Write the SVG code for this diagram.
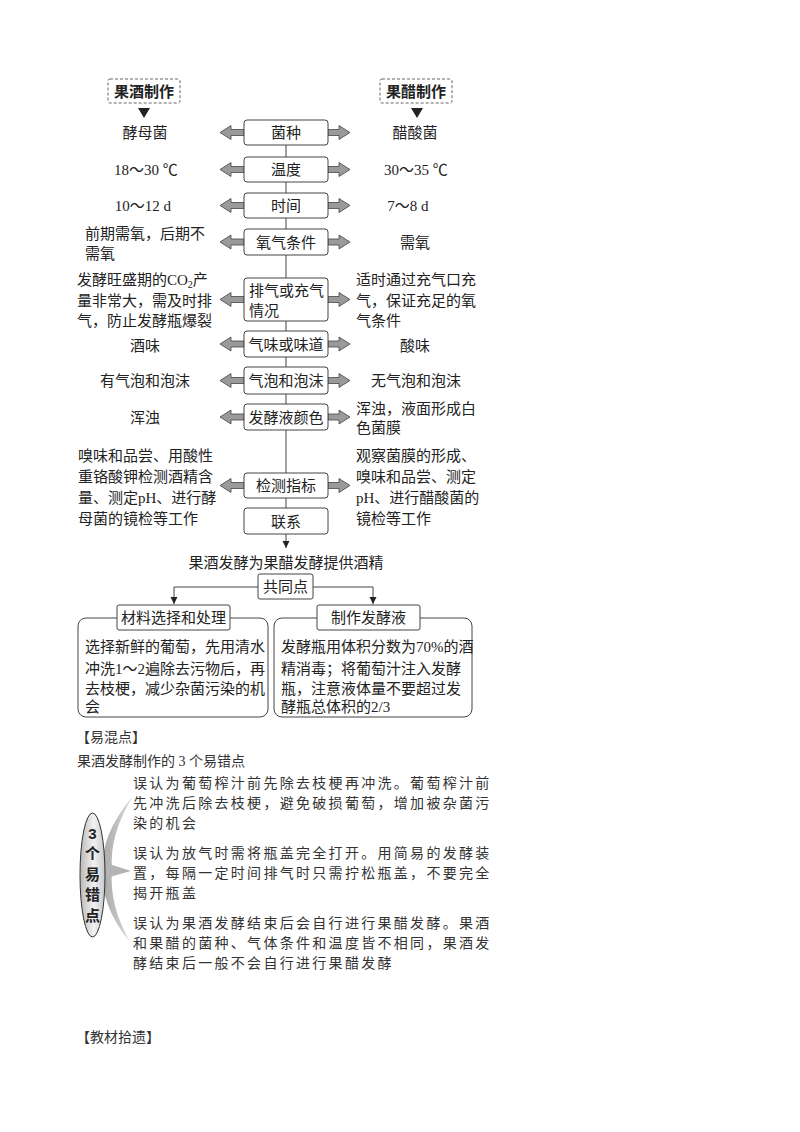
<svg xmlns="http://www.w3.org/2000/svg" width="800" height="1132" viewBox="0 0 800 1132">
<style>
.t{font-family:"Liberation Serif","Noto Sans CJK SC",serif;font-size:15px;fill:#222}
.s{font-family:"Liberation Serif","Noto Sans CJK SC",serif;font-size:14px;fill:#333;letter-spacing:2.3px}
.h{font-family:"Liberation Serif","Noto Sans CJK SC",serif;font-size:14px;fill:#333}
.c{text-anchor:middle}
.b{font-family:"Liberation Sans","Noto Sans CJK SC",sans-serif;font-weight:bold;font-size:15px;fill:#222}
.box{fill:#fff;stroke:#444;stroke-width:1}
.dash{fill:#fff;stroke:#666;stroke-width:1;stroke-dasharray:3 2}
.arr{fill:#9a9a9a;stroke:#444;stroke-width:0.8}
.ln{stroke:#444;stroke-width:1;fill:none}
</style>
<defs>
<path id="la" d="M0,-3 L-13,-3 L-13,-7 L-24,0 L-13,7 L-13,3 L0,3 Z"/>
<path id="ra" d="M0,-3 L11,-3 L11,-7 L22,0 L11,7 L11,3 L0,3 Z"/>
<marker id="tri" markerWidth="8" markerHeight="8" refX="7" refY="4" orient="auto" markerUnits="userSpaceOnUse">
<path d="M0,0.5 L7,4 L0,7.5 Z" fill="#222"/>
</marker>
<linearGradient id="og" x1="0" y1="0" x2="1" y2="0">
<stop offset="0" stop-color="#b8b8b8"/>
<stop offset="0.55" stop-color="#f2f2f2"/>
<stop offset="1" stop-color="#c8c8c8"/>
</linearGradient>
<linearGradient id="cg" x1="0" y1="0" x2="1" y2="0">
<stop offset="0" stop-color="#a8a8a8"/>
<stop offset="1" stop-color="#dcdcdc"/>
</linearGradient>
</defs>

<g id="connectors">
<line class="ln" x1="286" y1="145" x2="286" y2="508"/>
<line class="ln" x1="286" y1="534" x2="286" y2="548" marker-end="url(#tri)"/>
<polyline class="ln" points="258,587 174,587 174,604" marker-end="url(#tri)"/>
<polyline class="ln" points="313,587 373,587 373,604" marker-end="url(#tri)"/>
<path d="M138,108 L150,108 L144,118 Z" fill="#222"/>
<path d="M411,108 L423,108 L417,118 Z" fill="#222"/>
<g class="arr">
<use href="#la" x="244" y="132.5"/><use href="#ra" x="328" y="132.5"/>
<use href="#la" x="244" y="169.5"/><use href="#ra" x="328" y="169.5"/>
<use href="#la" x="244" y="205.5"/><use href="#ra" x="328" y="205.5"/>
<use href="#la" x="244" y="242"/><use href="#ra" x="328" y="242"/>
<use href="#la" x="244" y="299.5"/><use href="#ra" x="328" y="299.5"/>
<use href="#la" x="244" y="344"/><use href="#ra" x="328" y="344"/>
<use href="#la" x="244" y="380.5"/><use href="#ra" x="328" y="380.5"/>
<use href="#la" x="244" y="417"/><use href="#ra" x="328" y="417"/>
<use href="#la" x="244" y="485.5"/><use href="#ra" x="328" y="485.5"/>
</g>
</g>

<g id="head-wine">
<rect class="dash" x="108" y="79" width="72" height="24" rx="2"/>
<text class="b c" x="144" y="96.5">果酒制作</text>
</g>
<g id="head-vinegar">
<rect class="dash" x="380" y="79" width="72" height="24" rx="2"/>
<text class="b c" x="416" y="96.5">果醋制作</text>
</g>

<g id="n-strain"><rect class="box" x="244" y="120" width="84" height="25" rx="3"/><text class="t c" x="286" y="138">菌种</text></g>
<g id="n-temp"><rect class="box" x="244" y="157" width="84" height="25" rx="3"/><text class="t c" x="286" y="175">温度</text></g>
<g id="n-time"><rect class="box" x="244" y="193" width="84" height="25" rx="3"/><text class="t c" x="286" y="211">时间</text></g>
<g id="n-oxy"><rect class="box" x="244" y="229" width="84" height="26" rx="3"/><text class="t c" x="286" y="247.5">氧气条件</text></g>
<g id="n-gas"><rect class="box" x="244" y="278" width="84" height="43" rx="3"/><text class="t" x="249" y="295.5">排气或充气</text><text class="t" x="249" y="315.5">情况</text></g>
<g id="n-smell"><rect class="box" x="244" y="331" width="84" height="26" rx="3"/><text class="t c" x="286" y="349.5">气味或味道</text></g>
<g id="n-bubble"><rect class="box" x="244" y="367" width="84" height="27" rx="3"/><text class="t c" x="286" y="386">气泡和泡沫</text></g>
<g id="n-color"><rect class="box" x="244" y="404" width="84" height="26" rx="3"/><text class="t c" x="286" y="422.5">发酵液颜色</text></g>
<g id="n-detect"><rect class="box" x="244" y="473" width="84" height="25" rx="3"/><text class="t c" x="286" y="491">检测指标</text></g>
<g id="n-link"><rect class="box" x="244" y="508" width="84" height="26" rx="3"/><text class="t c" x="286" y="526.5">联系</text></g>

<g id="left-col">
<text class="t c" x="145" y="138">酵母菌</text>
<text class="t c" x="146" y="175">18～30 ℃</text>
<text class="t c" x="143" y="211">10～12 d</text>
<text class="t" x="85" y="238.5">前期需氧，后期不</text>
<text class="t" x="85" y="258.5">需氧</text>
<text class="t" x="77" y="284.5">发酵旺盛期的CO<tspan font-size="10" dy="3">2</tspan><tspan dy="-3">产</tspan></text>
<text class="t" x="77" y="305.5">量非常大，需及时排</text>
<text class="t" x="77" y="325.5">气，防止发酵瓶爆裂</text>
<text class="t c" x="145" y="350.5">酒味</text>
<text class="t c" x="145" y="386">有气泡和泡沫</text>
<text class="t c" x="145" y="422.5">浑浊</text>
<text class="t" x="78" y="460.5">嗅味和品尝、用酸性</text>
<text class="t" x="78" y="481.5">重铬酸钾检测酒精含</text>
<text class="t" x="78" y="502.5">量、测定pH、进行酵</text>
<text class="t" x="78" y="523.5">母菌的镜检等工作</text>
</g>

<g id="right-col">
<text class="t c" x="415" y="138">醋酸菌</text>
<text class="t c" x="416" y="175">30～35 ℃</text>
<text class="t c" x="408" y="211">7～8 d</text>
<text class="t c" x="415" y="247.5">需氧</text>
<text class="t" x="356" y="284.5">适时通过充气口充</text>
<text class="t" x="356" y="305.5">气，保证充足的氧</text>
<text class="t" x="356" y="325.5">气条件</text>
<text class="t c" x="415" y="350.5">酸味</text>
<text class="t c" x="416" y="386">无气泡和泡沫</text>
<text class="t" x="356" y="413.5">浑浊，液面形成白</text>
<text class="t" x="356" y="433">色菌膜</text>
<text class="t" x="356" y="460.5">观察菌膜的形成、</text>
<text class="t" x="356" y="481.5">嗅味和品尝、测定</text>
<text class="t" x="356" y="502.5">pH、进行醋酸菌的</text>
<text class="t" x="356" y="523.5">镜检等工作</text>
</g>

<g id="n-provide"><text class="t c" x="286" y="567.5">果酒发酵为果醋发酵提供酒精</text></g>
<g id="n-common"><rect class="box" x="258" y="574" width="55" height="25" rx="2"/><text class="t c" x="285.5" y="591.5">共同点</text></g>

<g id="n-material">
<rect class="box" x="78" y="618" width="190" height="99" rx="8"/>
<rect class="box" x="117" y="605" width="113" height="25" rx="2"/>
<text class="t c" x="173.5" y="623">材料选择和处理</text>
<text class="t" x="85" y="652">选择新鲜的葡萄，先用清水</text>
<text class="t" x="85" y="674">冲洗1～2遍除去污物后，再</text>
<text class="t" x="85" y="694">去枝梗，减少杂菌污染的机</text>
<text class="t" x="85" y="712">会</text>
</g>
<g id="n-liquid">
<rect class="box" x="274" y="618" width="198" height="99" rx="8"/>
<rect class="box" x="317" y="605" width="103" height="25" rx="2"/>
<text class="t c" x="368.5" y="623">制作发酵液</text>
<text class="t" x="281" y="652">发酵瓶用体积分数为70%的酒</text>
<text class="t" x="281" y="674">精消毒；将葡萄汁注入发酵</text>
<text class="t" x="281" y="694">瓶，注意液体量不要超过发</text>
<text class="t" x="281" y="712">酵瓶总体积的2/3</text>
</g>

<g id="confusion">
<text class="h" x="76" y="742">【易混点】</text>
<text class="h" x="77" y="766">果酒发酵制作的 3 个易错点</text>
<path d="M133,796 Q100,835 103,870 Q100,905 130,942 Q109,905 112,870 Q109,835 133,796 Z" fill="url(#cg)"/>
<path d="M106,863 L131,871 L106,878 Z" fill="#b4b4b4"/>
<ellipse cx="92.5" cy="875" rx="12.5" ry="62" fill="url(#og)" stroke="#333" stroke-width="1"/>
<text class="b c" x="92.5" y="838.5">3</text>
<text class="b c" x="92.5" y="859">个</text>
<text class="b c" x="92.5" y="879.5">易</text>
<text class="b c" x="92.5" y="900">错</text>
<text class="b c" x="92.5" y="920.5">点</text>
<text class="s" x="133" y="788">误认为葡萄榨汁前先除去枝梗再冲洗。葡萄榨汁前</text>
<text class="s" x="133" y="808">先冲洗后除去枝梗，避免破损葡萄，增加被杂菌污</text>
<text class="s" x="133" y="828">染的机会</text>
<text class="s" x="133" y="858">误认为放气时需将瓶盖完全打开。用简易的发酵装</text>
<text class="s" x="133" y="878">置，每隔一定时间排气时只需拧松瓶盖，不要完全</text>
<text class="s" x="133" y="898">揭开瓶盖</text>
<text class="s" x="133" y="928">误认为果酒发酵结束后会自行进行果醋发酵。果酒</text>
<text class="s" x="133" y="948">和果醋的菌种、气体条件和温度皆不相同，果酒发</text>
<text class="s" x="133" y="968">酵结束后一般不会自行进行果醋发酵</text>
<text class="h" x="76" y="1042">【教材拾遗】</text>
</g>
</svg>
